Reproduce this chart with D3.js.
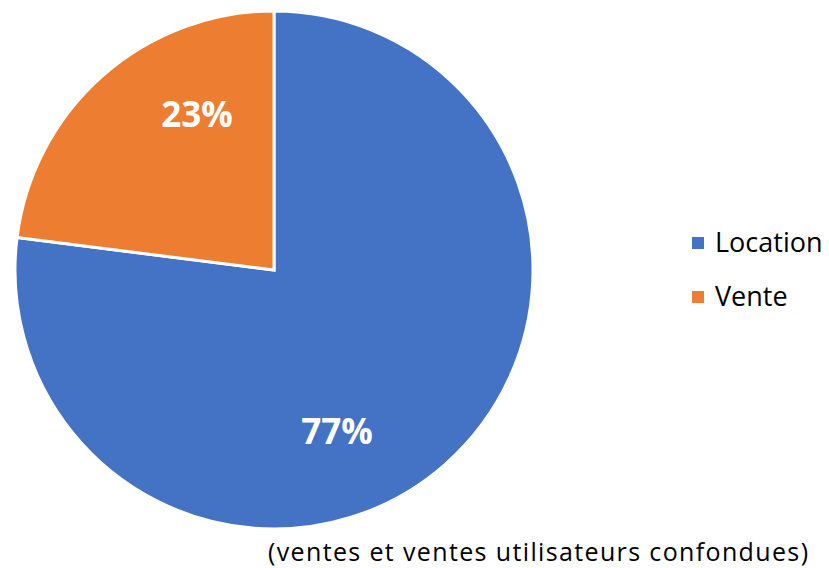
<!DOCTYPE html>
<html>
<head>
<meta charset="utf-8">
<script src="https://cdn.jsdelivr.net/npm/d3@7"></script>
<style>
  body { margin: 0; background: #fff; }
  svg text { font-family: "Open Sans", sans-serif; }
</style>
</head>
<body>
<div id="chart"></div>
<script>
// donnees
const categories = ["Location", "Vente"];
const parts = [77, 23];
const couleurs = ["#4472C4", "#ED7D31"];
const note = "(ventes et ventes utilisateurs confondues)";

const ctx = {
    width: 829,
    height: 568,
    cx: 274,
    cy: 270,
    r: 259
};

function createViz() {
    let svg = d3.select("#chart").append("svg")
        .attr("width", ctx.width)
        .attr("height", ctx.height);

    let pie = d3.pie().sort(null).value(d => d.v);
    let arcs = pie(categories.map((c, i) => ({ c: c, v: parts[i] })));

    let color = d3.scaleOrdinal().domain(categories).range(couleurs);

    let arc = d3.arc().innerRadius(0).outerRadius(ctx.r);

    let g = svg.append("g")
        .attr("transform", `translate(${ctx.cx},${ctx.cy})`);

    g.selectAll("path")
        .data(arcs)
        .enter().append("path")
        .attr("d", arc)
        .attr("fill", d => color(d.data.c))
        .attr("stroke", "white")
        .attr("stroke-width", 3)
        .attr("stroke-linejoin", "miter");

    // etiquettes (placement facon Excel, un peu decale)
    let decal = 17.6 * Math.PI / 180;
    let rLab = 173.5;
    g.selectAll("text.lab")
        .data(arcs)
        .enter().append("text")
        .attr("class", "lab")
        .attr("x", d => Math.sin((d.startAngle + d.endAngle) / 2 + decal) * rLab - 7)
        .attr("y", d => -Math.cos((d.startAngle + d.endAngle) / 2 + decal) * rLab + 3)
        .attr("dy", "0.36em")
        .attr("text-anchor", "middle")
        .style("font-size", "35px")
        .style("font-weight", "bold")
        .style("fill", "white")
        .text(d => d.data.v + "%");

    // legende
    let leg = svg.append("g").attr("transform", "translate(692,237)");
    let items = leg.selectAll("g")
        .data(categories)
        .enter().append("g")
        .attr("transform", (d, i) => `translate(0,${i * 54})`);
    items.append("rect")
        .attr("width", 12)
        .attr("height", 12)
        .attr("fill", d => color(d));
    items.append("text")
        .attr("x", 23)
        .attr("y", 15)
        .style("font-size", "27px")
        .style("fill", "#000")
        .text(d => d);

    svg.append("text")
        .attr("x", 268)
        .attr("y", 561)
        .attr("textLength", 540)
        .attr("lengthAdjust", "spacing")
        .style("font-size", "25px")
        .style("fill", "#000")
        .text(note);
}

createViz();
</script>
</body>
</html>
